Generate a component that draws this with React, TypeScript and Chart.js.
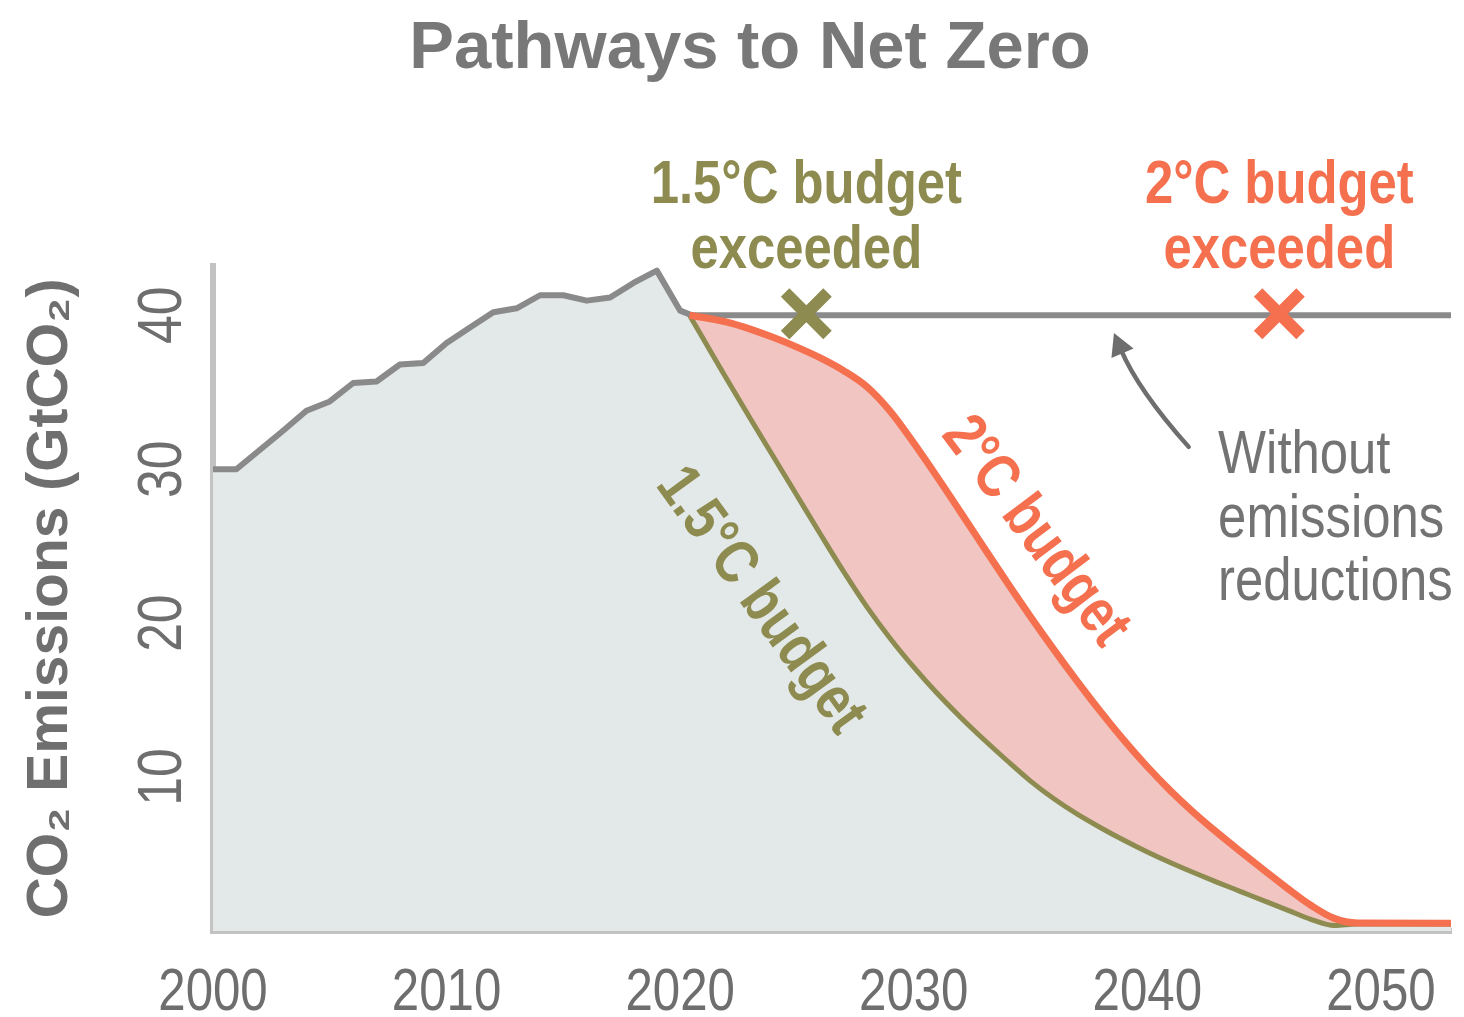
import React, { useEffect, useRef } from "react";
import { Chart, registerables } from "chart.js";

Chart.register(...registerables);

// ---------------- data ----------------
const historicYears = [2000, 2001, 2002, 2003, 2004, 2005, 2006, 2007, 2008, 2009, 2010, 2011, 2012, 2013, 2014, 2015, 2016, 2017, 2018, 2019, 2020, 2020.5];
const historicEmissions = [30.0, 30.0, 31.25, 32.5, 33.8, 34.4, 35.6, 35.7, 36.8, 36.9, 38.2, 39.2, 40.2, 40.45, 41.3, 41.3, 40.95, 41.15, 42.1, 42.9, 40.3, 40.0];

const noReductionYears = [2020.4, 2053];
const noReductionEmissions = [40.0, 40.0];

const pathwayYears = [2020.4, 2021, 2022, 2023, 2024, 2025, 2026, 2027, 2028, 2029, 2030, 2031, 2032, 2033, 2034, 2035, 2036, 2037, 2038, 2039, 2040, 2041, 2042, 2043, 2044, 2045, 2046, 2047, 2048, 2049, 2053];
const twoDegreeEmissions = [40.0, 39.85, 39.55, 39.1, 38.55, 37.93, 37.23, 36.4, 35.35, 33.75, 31.7, 29.5, 27.22, 24.92, 22.64, 20.42, 18.28, 16.22, 14.25, 12.39, 10.67, 9.1, 7.68, 6.38, 5.15, 3.95, 2.77, 1.67, 0.82, 0.52, 0.5];
const onePointFiveEmissions = [40.0, 38.44, 35.84, 33.29, 30.79, 28.29, 25.79, 23.34, 21.04, 18.99, 17.14, 15.44, 13.89, 12.44, 11.06, 9.74, 8.59, 7.59, 6.71, 5.89, 5.13, 4.43, 3.78, 3.16, 2.56, 1.96, 1.36, 0.76, 0.36, 0.45, 0.45];

const exceededYears = [2025.4, 2045.65];
const exceededEmissions = [40.1, 40.1];

const xTickValues = [2000, 2010, 2020, 2030, 2040, 2050];
const yTickValues = [10, 20, 30, 40];

const chartTitle = "Pathways to Net Zero";
const yAxisTitle = "CO\u2082 Emissions (GtCO\u2082)";
const label15Exceeded = ["1.5\u00B0C budget", "exceeded"];
const label2Exceeded = ["2\u00B0C budget", "exceeded"];
const labelWithout = ["Without", "emissions", "reductions"];
const label15Curve = "1.5\u00B0C budget";
const label2Curve = "2\u00B0C budget";

// ---------------- styles ----------------
const SANS = "'Liberation Sans', Arial, Helvetica, sans-serif";
const SQUEEZE = 0.82; // condensed look (Arial Narrow proportions)
const GRAY_LINE = "#8a8a8a";
const GRAY_FILL = "#e3e8e8";
const AXIS_GRAY = "#c2c2c2";
const TEXT_GRAY = "#737373";
const TICK_GRAY = "#6e6e6e";
const OLIVE = "#8d8b4f";
const ORANGE = "#f4704f";
const PINK = "#f1c5c2";

const toXY = (xs: number[], ys: number[]) => xs.map((x, i) => ({ x, y: ys[i] }));

function condensedText(
  ctx: CanvasRenderingContext2D,
  text: string,
  x: number,
  y: number,
  font: string,
  color: string,
  align: CanvasTextAlign,
  baseline: CanvasTextBaseline = "alphabetic",
  rotation = 0
) {
  ctx.save();
  ctx.translate(x, y);
  if (rotation) ctx.rotate(rotation);
  ctx.scale(SQUEEZE, 1);
  ctx.font = font;
  ctx.fillStyle = color;
  ctx.textAlign = align;
  ctx.textBaseline = baseline;
  ctx.fillText(text, 0, 0);
  ctx.restore();
}

const annotationPlugin = {
  id: "netZeroAnnotations",
  afterDraw(chart: any) {
    const { ctx } = chart;
    const xs = chart.scales.x;
    const ys = chart.scales.y;
    const px = (v: number) => xs.getPixelForValue(v);
    const py = (v: number) => ys.getPixelForValue(v);
    ctx.save();

    // title
    ctx.fillStyle = "#787878";
    ctx.font = `bold 67px ${SANS}`;
    ctx.textAlign = "center";
    ctx.textBaseline = "alphabetic";
    ctx.fillText(chartTitle, 750, 68);

    // x tick labels (from the x scale ticks)
    xs.ticks.forEach((t: any) => {
      condensedText(ctx, String(t.value), px(t.value), ys.bottom + 79, `60px ${SANS}`, TICK_GRAY, "center");
    });
    // y tick labels, rotated (from the y scale ticks)
    ys.ticks.forEach((t: any) => {
      const size = 63;
      condensedText(ctx, String(t.value), chart.chartArea.left - 55 + 0.358 * size, py(t.value), `${size}px ${SANS}`, TICK_GRAY, "center", "alphabetic", -Math.PI / 2);
    });

    // "budget exceeded" labels above the crosses
    const boldFont = `bold 62px ${SANS}`;
    condensedText(ctx, label15Exceeded[0], px(exceededYears[0]), py(47.3), boldFont, OLIVE, "center");
    condensedText(ctx, label15Exceeded[1], px(exceededYears[0]), py(43.08), boldFont, OLIVE, "center");
    condensedText(ctx, label2Exceeded[0], px(exceededYears[1]), py(47.3), boldFont, ORANGE, "center");
    condensedText(ctx, label2Exceeded[1], px(exceededYears[1]), py(43.08), boldFont, ORANGE, "center");

    // "Without emissions reductions"
    const regFont = `62px ${SANS}`;
    condensedText(ctx, labelWithout[0], px(2043.03), py(29.76), regFont, TEXT_GRAY, "left");
    condensedText(ctx, labelWithout[1], px(2043.03), py(25.6), regFont, TEXT_GRAY, "left");
    condensedText(ctx, labelWithout[2], px(2043.03), py(21.51), regFont, TEXT_GRAY, "left");

    // arrow pointing at the flat line
    const tx = px(2041.77), ty = py(31.45);
    const cx = px(2039.6), cy = py(35.15);
    const hx = px(2038.57), hy = py(38.85);
    const dx = hx - cx, dy = hy - cy;
    const len = Math.hypot(dx, dy);
    const ux = dx / len, uy = dy / len;
    const headLen = 22, headHalf = 12;
    const bx = hx - ux * headLen, by = hy - uy * headLen;
    ctx.strokeStyle = "#6e6e6e";
    ctx.fillStyle = "#6e6e6e";
    ctx.lineWidth = 4.5;
    ctx.lineCap = "round";
    ctx.beginPath();
    ctx.moveTo(tx, ty);
    ctx.quadraticCurveTo(cx, cy, bx + ux * 4, by + uy * 4);
    ctx.stroke();
    ctx.beginPath();
    ctx.moveTo(hx, hy);
    ctx.lineTo(bx - uy * headHalf, by + ux * headHalf);
    ctx.lineTo(bx + uy * headHalf, by - ux * headHalf);
    ctx.closePath();
    ctx.fill();

    // labels along the curves
    condensedText(ctx, label15Curve, px(2023.42), py(21.44), boldFont, OLIVE, "center", "middle", (54 * Math.PI) / 180);
    condensedText(ctx, label2Curve, px(2035.19), py(25.93), boldFont, ORANGE, "center", "middle", (53 * Math.PI) / 180);

    ctx.restore();
  },
};

export default function App() {
  const canvasRef = useRef<HTMLCanvasElement | null>(null);

  useEffect(() => {
    document.body.style.margin = "0";
    document.body.style.overflow = "hidden";
    const canvas = canvasRef.current;
    if (!canvas) return;

    const chart = new Chart(canvas, {
      type: "line",
      data: {
        datasets: [
          {
            label: "Budget exceeded",
            type: "scatter" as any,
            data: toXY(exceededYears, exceededEmissions),
            pointStyle: "crossRot",
            pointRadius: 30,
            pointBorderWidth: 12,
            pointBorderColor: [OLIVE, ORANGE],
            pointBackgroundColor: [OLIVE, ORANGE],
            showLine: false,
            clip: false,
            order: 0,
          } as any,
          {
            label: "2\u00B0C budget",
            data: toXY(pathwayYears, twoDegreeEmissions),
            borderColor: ORANGE,
            borderWidth: 7,
            backgroundColor: PINK,
            fill: 4,
            cubicInterpolationMode: "monotone",
            pointRadius: 0,
            order: 1,
          },
          {
            label: "Historical",
            data: toXY(historicYears, historicEmissions),
            borderColor: GRAY_LINE,
            borderWidth: 6,
            borderJoinStyle: "round",
            backgroundColor: GRAY_FILL,
            fill: "origin",
            tension: 0,
            pointRadius: 0,
            order: 2,
          },
          {
            label: "Without emissions reductions",
            data: toXY(noReductionYears, noReductionEmissions),
            borderColor: GRAY_LINE,
            borderWidth: 6,
            fill: false,
            pointRadius: 0,
            order: 3,
          },
          {
            label: "1.5\u00B0C budget",
            data: toXY(pathwayYears, onePointFiveEmissions),
            borderColor: OLIVE,
            borderWidth: 5,
            backgroundColor: GRAY_FILL,
            fill: "origin",
            cubicInterpolationMode: "monotone",
            pointRadius: 0,
            order: 4,
          },
        ],
      },
      options: {
        responsive: false,
        animation: false,
        devicePixelRatio: 1,
        events: [],
        layout: { autoPadding: false, padding: { top: 266, right: 13, bottom: 0, left: 0 } },
        plugins: {
          legend: { display: false },
          tooltip: { enabled: false },
          filler: { drawTime: "beforeDatasetsDraw" },
        },
        scales: {
          x: {
            type: "linear",
            min: 2000,
            max: 2053,
            grid: { display: false, drawTicks: false },
            border: { display: true, color: AXIS_GRAY, width: 6 },
            afterBuildTicks: (scale: any) => {
              scale.ticks = xTickValues.map((v) => ({ value: v }));
            },
            ticks: { display: false },
            afterFit: (scale: any) => {
              scale.height = 86;
            },
          },
          y: {
            type: "linear",
            min: 0,
            max: 43.2,
            grid: { display: false, drawTicks: false },
            border: { display: true, color: AXIS_GRAY, width: 6 },
            afterBuildTicks: (scale: any) => {
              scale.ticks = yTickValues.map((v) => ({ value: v }));
            },
            ticks: { display: false },
            title: {
              display: true,
              text: yAxisTitle,
              color: "#6f6f6f",
              font: { family: SANS, size: 57, weight: "bold" },
              padding: { top: 17, bottom: 0 },
            },
            afterFit: (scale: any) => {
              scale.width = 213;
            },
          },
        },
      },
      plugins: [annotationPlugin],
    } as any);

    return () => chart.destroy();
  }, []);

  return (
    <div style={{ width: 1464, height: 1017, background: "#ffffff" }}>
      <canvas ref={canvasRef} width={1464} height={1017} style={{ display: "block" }} />
    </div>
  );
}
